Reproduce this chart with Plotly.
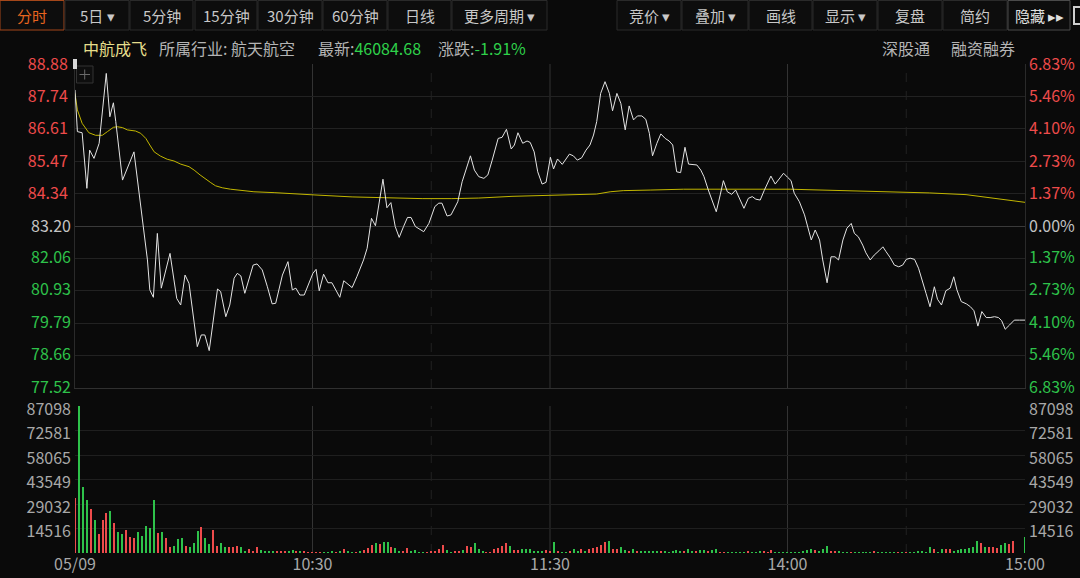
import plotly.graph_objects as go

# ---------------- data ----------------
prev_close = 83.20

# minute offsets from 09:30 (120 = 11:30/13:00, 240 = 15:00)
price_min = [0, 0.6, 1.8, 3.0, 3.7, 4.8, 6.1, 7.9, 8.8, 9.7, 10.3, 12.0, 14.9, 18.3, 18.9, 19.8, 20.8, 21.8, 24.0,
             25.7, 26.7, 27.8, 28.8, 30.9, 31.9, 32.8, 33.9, 36.0, 36.8, 38.1, 39.1, 40.2, 41.0, 41.9, 42.9, 45.0,
             46.0, 47.3, 48.6, 49.8, 50.7, 52.4, 53.8, 54.9, 55.8, 56.8, 57.9, 59.5, 60.1, 60.9, 61.7, 62.8, 63.9,
             64.9, 66.9, 67.9, 70.0, 71.2, 72.9, 73.8, 74.9, 75.9, 76.7, 77.8, 78.8, 79.8, 80.9, 81.9, 83.0, 84.0,
             84.9, 86.0, 88.1, 89.4, 90.9, 91.9, 92.7, 94.0, 95.0, 96.7, 97.8, 98.8, 99.9, 100.9, 102.0, 103.3,
             104.3, 105.4, 106.9, 107.9, 109.0, 110.2, 111.0, 111.9, 113.1, 114.2, 115.0, 116.0, 116.9, 118.0,
             119.0, 120.1, 120.9, 121.9, 123.1, 124.9, 125.9, 126.9, 128.0, 129.1, 130.1, 131.0, 131.8, 132.8,
             133.9, 135.0, 135.8, 136.9, 137.9, 139.0, 140.0, 141.1, 142.1, 143.2, 144.2, 145.1, 145.9, 147.0,
             148.0, 149.1, 150.1, 151.0, 152.0, 153.0, 154.1, 155.0, 157.1, 158.1, 158.9, 160.0, 161.0, 162.0,
             163.0, 163.8, 164.8, 165.9, 166.9, 167.8, 169.0, 170.1, 171.1, 172.0, 173.1, 174.1, 174.9, 175.8,
             176.9, 178.1, 179.0, 180.0, 180.9, 181.7, 183.0, 184.3, 185.1, 186.0, 187.0, 188.1, 188.9, 190.0,
             191.0, 192.0, 192.9, 194.0, 195.0, 196.1, 196.9, 197.9, 199.0, 199.8, 200.9, 201.9, 203.1, 204.1,
             204.9, 205.9, 207.0, 208.1, 209.1, 210.0, 211.0, 212.1, 213.1, 214.2, 215.0, 216.0, 217.1, 217.9,
             218.9, 220.0, 221.1, 222.0, 222.8, 223.9, 225.2, 226.2, 227.1, 228.1, 229.1, 230.2, 231.2, 232.3,
             233.3, 234.1, 235.0, 236.1, 237.3, 238.6, 240.0]
price_val = [87.97, 86.51, 86.47, 84.52, 85.86, 85.57, 86.10, 88.55, 87.03, 87.52, 86.86, 84.81, 85.80, 82.01, 80.96,
             80.70, 82.94, 81.02, 82.24, 80.66, 80.43, 81.48, 81.19, 78.97, 79.38, 79.38, 78.83, 80.99, 80.90, 80.02,
             80.43, 81.37, 81.54, 81.45, 80.84, 81.83, 81.87, 81.66, 81.07, 80.47, 80.49, 81.48, 81.95, 80.96, 81.02,
             80.78, 80.78, 81.31, 81.54, 81.68, 80.93, 81.51, 81.21, 81.21, 80.70, 81.28, 81.04, 81.42, 82.01, 82.42,
             83.47, 83.21, 83.88, 84.84, 83.84, 84.02, 83.18, 82.80, 83.18, 83.50, 83.50, 83.18, 83.00, 83.29, 83.88,
             84.00, 84.00, 83.55, 83.59, 84.05, 84.75, 85.16, 85.66, 85.16, 84.93, 84.87, 84.99, 85.51, 86.27, 86.31,
             86.59, 85.90, 86.04, 86.47, 86.10, 86.18, 86.13, 85.80, 85.10, 84.67, 84.73, 85.61, 85.20, 85.55, 85.36,
             85.72, 85.66, 85.51, 85.59, 85.86, 86.04, 86.39, 86.86, 87.85, 88.26, 87.85, 87.24, 87.85, 87.50, 86.57,
             87.41, 86.92, 87.06, 87.06, 86.94, 86.45, 85.66, 86.10, 86.43, 86.27, 86.18, 86.04, 85.10, 85.07, 85.96,
             85.37, 85.34, 85.16, 84.93, 84.46, 84.05, 83.70, 84.29, 84.79, 84.40, 84.31, 84.46, 84.17, 83.82, 84.17,
             84.23, 84.14, 84.11, 84.44, 84.70, 84.95, 84.67, 84.91, 85.05, 84.91, 84.79, 84.35, 84.05, 83.59, 83.18,
             82.71, 83.06, 82.71, 82.01, 81.21, 82.12, 82.12, 82.01, 82.71, 83.12, 83.29, 82.94, 82.82, 82.53, 82.26,
             82.01, 82.18, 82.33, 82.47, 82.30, 82.10, 81.83, 81.77, 81.83, 82.03, 82.07, 82.03, 81.72, 81.25, 80.84,
             80.37, 81.07, 80.63, 80.43, 80.93, 81.02, 81.42, 80.96, 80.55, 80.47, 80.37, 80.23, 79.69, 80.20, 79.99,
             79.99, 80.02, 79.99, 79.88, 79.58, 79.73, 79.90, 79.90, 79.90]

avg_min = [0, 0.6, 1.8, 3.5, 5.2, 6.9, 8.2, 9.7, 10.7, 12.0, 13.2, 15.3, 16.6, 17.9, 18.9, 20.0, 21.6, 23.3, 25.0,
           26.7, 28.8, 30.1, 31.6, 33.0, 34.3, 35.5, 37.2, 39.3, 41.9, 45.2, 50.3, 55.3, 60.4, 70.0, 80.1, 87.7,
           95.2, 102.0, 110.4, 120.5, 125.0, 131.8, 135.2, 138.5, 145.3, 153.7, 180.7, 188.9, 197.3, 210.0, 215.8,
           225.1, 230.2, 235.2, 240.0]
avg_val = [87.85, 87.27, 86.80, 86.47, 86.38, 86.38, 86.51, 86.66, 86.68, 86.65, 86.57, 86.53, 86.45, 86.27, 86.04,
           85.80, 85.65, 85.54, 85.48, 85.37, 85.28, 85.16, 84.99, 84.84, 84.72, 84.61, 84.54, 84.49, 84.44, 84.40,
           84.37, 84.32, 84.29, 84.22, 84.18, 84.16, 84.16, 84.18, 84.24, 84.28, 84.30, 84.32, 84.40, 84.44, 84.46,
           84.49, 84.49, 84.46, 84.42, 84.39, 84.36, 84.30, 84.21, 84.11, 84.03]

# per-minute volume (minute 0..240)
volume = [
    32400, 87098, 38900, 31400, 26100, 19550, 11260, 19550, 23900, 24900,
    17950, 12260, 11260, 13630, 9660, 9070, 12620, 10250, 16000, 14630,
    31400, 11650, 12260, 9070, 3750, 4350, 8100, 8690, 4150, 3750,
    6120, 13230, 15600, 8690, 5330, 13630, 4350, 6120, 3360, 3750,
    3750, 4350, 3750, 1380, 2570, 1380, 3560, 1780, 1180, 990,
    990, 790, 1180, 790, 1380, 1780, 790, 1380, 790, 590,
    590, 590, 590, 590, 590, 790, 590, 990, 2370, 790,
    590, 590, 790, 1780, 2770, 4740, 5730, 5330, 6310, 6700,
    3750, 3160, 1180, 790, 2770, 1180, 1780, 400, 590, 590,
    1180, 1380, 2170, 4740, 1780, 200, 790, 1180, 1780, 4350,
    3360, 6120, 2370, 1180, 400, 590, 2170, 2770, 4350, 5730,
    4350, 1780, 1780, 2570, 2170, 2170, 1180, 790, 1180, 1780,
    1180, 6700, 790, 590, 590, 790, 2370, 1180, 2170, 790,
    2170, 2770, 3560, 4740, 6700, 7290, 2170, 2170, 3750, 1780,
    990, 2370, 1180, 790, 1180, 790, 1180, 790, 790, 1380,
    590, 1380, 1780, 1380, 790, 2170, 1380, 990, 1780, 1780,
    1180, 1780, 2170, 400, 400, 400, 400, 400, 590, 400,
    990, 400, 400, 990, 790, 590, 1780, 400, 400, 400,
    590, 400, 400, 590, 990, 1780, 2170, 1780, 1380, 2170,
    4350, 1180, 790, 790, 400, 400, 400, 400, 400, 400,
    400, 400, 1380, 400, 400, 400, 400, 400, 400, 400,
    400, 400, 400, 990, 1380, 400, 3750, 2570, 400, 2170,
    2170, 2570, 990, 1780, 2170, 2570, 2960, 3360, 7290, 5730,
    3360, 3750, 3360, 2960, 4740, 5730, 5330, 7290, 0, 0,
    9660]
# r = up minute (red), g = down minute (green)
volume_dir = ("rgggrgrrrg" "rggrrrgggg" "grgrrgggrg" "ggrggrrggr" "rrggrrrggg"
              "grrrggrgrr" "rrrgggrgrg" "grgrrrgrgg" "rggrrggggr" "rrrrggrrgr"
              "rgggrrrrrr" "grrggggggr" "rgrggrggrg" "rrrrrgrrgg" "rgrgggggrg"
              "ggggrggrgg" "rggrrggggg" "rgggrrrggg" "gggggggrgg" "grrgggrggg"
              "ggrgggggrg" "rggggggrgg" "rrgggggggr" "grrrggrrgg" "g")
minutes = list(range(len(volume)))

price_ticks = [77.52, 78.66, 79.79, 80.93, 82.06, 83.20, 84.34, 85.47, 86.61, 87.74, 88.88]
pct_labels = ["6.83%", "5.46%", "4.10%", "2.73%", "1.37%", "0.00%", "1.37%", "2.73%", "4.10%", "5.46%", "6.83%"]
vol_ticks = [14516, 29032, 43549, 58065, 72581, 87098]
time_ticks = [0, 60, 120, 180, 240]
time_labels = ["05/09", "10:30", "11:30", "14:00", "15:00"]
solid_lines = [60, 120, 180]
dashed_lines = [90, 210]

toolbar_left = ["分时", "5日 ▾", "5分钟", "15分钟", "30分钟", "60分钟", "日线", "更多周期 ▾"]
toolbar_right = ["竞价 ▾", "叠加 ▾", "画线", "显示 ▾", "复盘", "简约", "隐藏 ▸▸"]

assert len(price_min) == len(price_val)
assert len(avg_min) == len(avg_val)
assert len(volume) == len(volume_dir) == 241

# ---------------- style ----------------
W, H = 1080, 578
BG = "#0a0a0a"
RED = "#ee4b4b"
GREEN = "#2ec24a"
GREY = "#c4c4c4"
LBL = "#a8a8a8"
FONT = "Noto Sans CJK SC"


def fx(x):
    return x / W


def fy(y):
    return 1 - y / H


PX0, PX1 = 75, 1025
PY_TOP, PY_BOT = 64, 388
VY_TOP, VY_BOT = 406, 553

fig = go.Figure()

fig.add_trace(go.Scatter(x=avg_min, y=avg_val, mode="lines", line=dict(color="#c2b600", width=1),
                         hoverinfo="skip", xaxis="x", yaxis="y"))
fig.add_trace(go.Scatter(x=price_min, y=price_val, mode="lines", line=dict(color="#e4e4e4", width=1),
                         hoverinfo="skip", xaxis="x", yaxis="y"))
fig.add_trace(go.Bar(x=minutes, y=volume, width=0.35,
                     marker=dict(color=[RED if d == "r" else GREEN for d in volume_dir], line=dict(width=0)),
                     hoverinfo="skip", xaxis="x2", yaxis="y2"))
for ax in ["y3", "y4", "y5", "y6", "y7"]:
    fig.add_trace(go.Scatter(x=[], y=[], xaxis="x", yaxis=ax, hoverinfo="skip"))
fig.add_trace(go.Scatter(x=[], y=[], xaxis="x2", yaxis="y8", hoverinfo="skip"))

up = [t for t in price_ticks if t > prev_close]
dn = [t for t in price_ticks if t < prev_close]
eq = [t for t in price_ticks if t == prev_close]
lab = {t: f"{t:.2f}" for t in price_ticks}
plab = dict(zip(price_ticks, pct_labels))

prange = [price_ticks[0], price_ticks[-1]]
pdom = [fy(PY_BOT), fy(PY_TOP)]
vdom = [fy(VY_BOT), fy(VY_TOP)]
xdom = [fx(PX0), fx(PX1)]

tickfont = dict(family=FONT, size=16)


def yax(vals, texts, color, side, grid, gridcolor="#222222", overlay=None, domain=None, rng=None, shift=0):
    d = dict(range=rng or prange, tickvals=vals, ticktext=texts, side=side, ticks="",
             tickfont=dict(tickfont, color=color), showgrid=grid, gridcolor=gridcolor, gridwidth=1,
             zeroline=False, fixedrange=True, ticklabelstandoff=3, automargin=False, ticklabelshift=shift)
    if overlay:
        d["overlaying"] = overlay
        d["anchor"] = "x" if overlay == "y" else "x2"
    else:
        d["domain"] = domain
    return d


layout = dict(
    width=W, height=H, margin=dict(l=0, r=0, t=0, b=0, pad=0, autoexpand=False), autosize=False,
    paper_bgcolor=BG, plot_bgcolor=BG, showlegend=False, bargap=0,
    xaxis=dict(domain=xdom, range=[0, 240], anchor="y", showticklabels=False, showgrid=False, zeroline=False,
               showline=True, linecolor="#303030", ticks="", fixedrange=True, automargin=False),
    xaxis2=dict(domain=xdom, range=[0, 240], anchor="y2", tickvals=time_ticks, ticktext=time_labels, ticks="",
                tickfont=dict(tickfont, color=LBL), showgrid=False, zeroline=False, showline=False,
                fixedrange=True, automargin=False),
    yaxis=yax(up, [lab[t] for t in up], RED, "left", True, domain=pdom),
    yaxis3=yax(dn, [lab[t] for t in dn], GREEN, "left", True, overlay="y", shift=-1),
    yaxis4=yax(eq, [lab[t] for t in eq], GREY, "left", True, gridcolor="#3a3a3a", overlay="y"),
    yaxis5=yax(up, [plab[t] for t in up], RED, "right", False, overlay="y"),
    yaxis6=yax(dn, [plab[t] for t in dn], GREEN, "right", False, overlay="y", shift=-1),
    yaxis7=yax(eq, [plab[t] for t in eq], GREY, "right", False, overlay="y"),
    yaxis2=yax(vol_ticks, [str(v) for v in vol_ticks], LBL, "left", True, gridcolor="#1f1f1f",
               domain=vdom, rng=[0, vol_ticks[-1]], shift=3),
    yaxis8=yax(vol_ticks, [str(v) for v in vol_ticks], LBL, "right", False, overlay="y2",
               rng=[0, vol_ticks[-1]], shift=3),
)
layout["yaxis"].update(showline=True, mirror=True, linecolor="#2a2a2a", anchor="x")
layout["yaxis2"].update(anchor="x2")

shapes = []
annotations = []
# session dividers
for m in solid_lines:
    for yr in ["y domain", "y2 domain"]:
        shapes.append(dict(type="line", xref="x", yref=yr, x0=m, x1=m, y0=0, y1=1,
                           line=dict(color="#333333", width=1), layer="below"))
for m in dashed_lines:
    for yr in ["y domain", "y2 domain"]:
        shapes.append(dict(type="line", xref="x", yref=yr, x0=m, x1=m, y0=0, y1=1,
                           line=dict(color="#222222", width=1, dash="dash"), layer="below"))
# brighter middle volume gridline
shapes.append(dict(type="line", xref="x2 domain", yref="y2", x0=0, x1=1, y0=vol_ticks[2], y1=vol_ticks[2],
                   line=dict(color="#2e2e2e", width=1), layer="below"))


def button(x0, x1, text, color="#c8c8c8", border="#2a2a2a"):
    shapes.append(dict(type="rect", xref="paper", yref="paper", x0=fx(x0), x1=fx(x1), y0=fy(30), y1=fy(0.5),
                       line=dict(color=border, width=1), fillcolor="#0d0d0d", layer="below"))
    annotations.append(dict(x=fx((x0 + x1) / 2), y=fy(15.5), xref="paper", yref="paper", text=text,
                            showarrow=False, xanchor="center", yanchor="middle",
                            font=dict(family=FONT, size=15, color=color)))


left_edges = [(0, 64), (65, 129), (130, 193), (195, 257), (258, 322), (323, 387), (388, 451), (452, 547)]
right_edges = [(617, 681), (682, 748), (749, 812), (813, 877), (878, 942), (943, 1007), (1008, 1070)]
for i, (t, (a, b)) in enumerate(zip(toolbar_left, left_edges)):
    if i == 0:
        button(a, b, t, color="#e8651f", border="#a4471a")
    else:
        button(a, b, t)
for i, (t, (a, b)) in enumerate(zip(toolbar_right, right_edges)):
    if i == len(toolbar_right) - 1:
        button(a, b, t, color="#e0e0e0", border="#4a4a4a")
    else:
        button(a, b, t)
# partial icon at the right edge
shapes.append(dict(type="rect", xref="paper", yref="paper", x0=fx(1074), x1=fx(1084), y0=fy(24), y1=fy(7),
                   line=dict(color="#cfcfcf", width=2), fillcolor=BG))

# header line
hy = fy(48)
annotations += [
    dict(x=fx(81), y=hy, text="中航成飞", font=dict(color="#e6df8c")),
    dict(x=fx(157), y=hy, text="所属行业: 航天航空", font=dict(color="#b4b4b4")),
    dict(x=fx(316), y=hy, text="最新:<span style='color:#2fd14a'>46084.68</span>", font=dict(color="#b4b4b4")),
    dict(x=fx(436), y=hy, text="涨跌:<span style='color:#2fd14a'>-1.91%</span>", font=dict(color="#b4b4b4")),
    dict(x=fx(880), y=hy, text="深股通", font=dict(color="#b4b4b4")),
    dict(x=fx(949), y=hy, text="融资融券", font=dict(color="#b4b4b4")),
]
for a in annotations[-6:]:
    a.update(xref="paper", yref="paper", showarrow=False, yanchor="middle")
    a.setdefault("xanchor", "left")
    a["font"] = dict(family=FONT, size=16, **a["font"])

# "+" box at top-left of the price panel
shapes.append(dict(type="rect", xref="paper", yref="paper", x0=fx(76.5), x1=fx(93), y0=fy(83), y1=fy(66),
                   line=dict(color="#333333", width=1), fillcolor="#0e0e0e"))
shapes.append(dict(type="line", xref="paper", yref="paper", x0=fx(79.5), x1=fx(90), y0=fy(74.5), y1=fy(74.5),
                   line=dict(color="#6a6a6a", width=1)))
shapes.append(dict(type="line", xref="paper", yref="paper", x0=fx(84.7), x1=fx(84.7), y0=fy(69.5), y1=fy(79.5),
                   line=dict(color="#6a6a6a", width=1)))
shapes.append(dict(type="rect", xref="paper", yref="paper", x0=fx(73), x1=fx(77), y0=fy(69), y1=fy(59),
                   line=dict(width=0), fillcolor="#d8d8d8"))

layout["shapes"] = shapes
layout["annotations"] = annotations
fig.update_layout(**layout)

fig.write_html("out.html", config={"displayModeBar": False},
               post_script="document.body.style.margin='0px';document.body.style.overflow='hidden';"
                           "document.body.style.background='#0a0a0a';")
